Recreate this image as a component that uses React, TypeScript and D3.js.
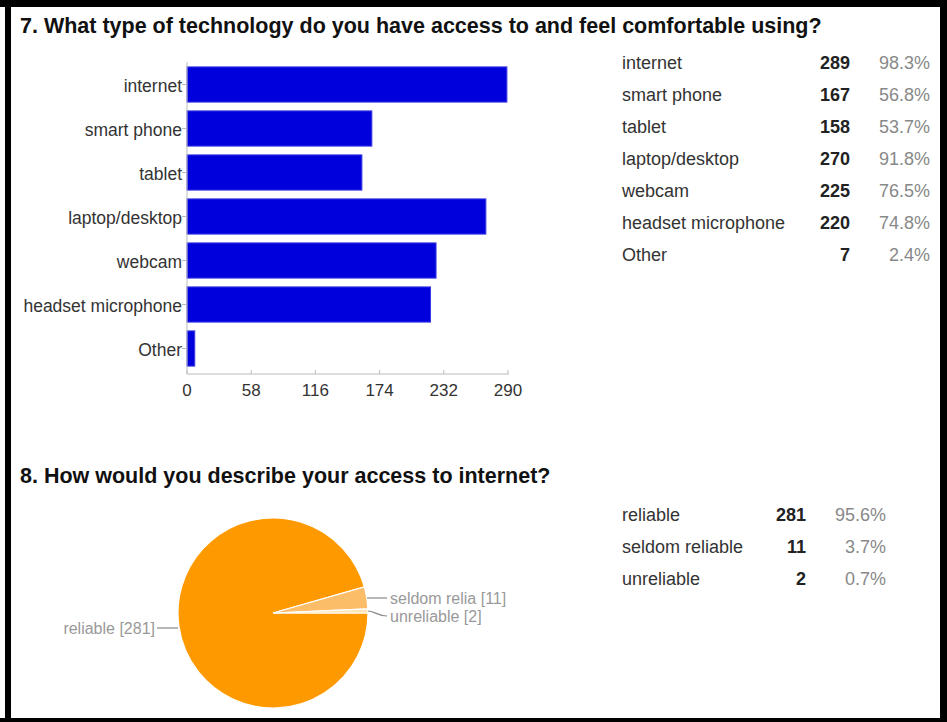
import React from "react";
import * as d3 from "d3";

const techCategories = ["internet", "smart phone", "tablet", "laptop/desktop", "webcam", "headset microphone", "Other"];
const techCounts = [289, 167, 158, 270, 225, 220, 7];
const techPercents = ["98.3%", "56.8%", "53.7%", "91.8%", "76.5%", "74.8%", "2.4%"];
const techTicks = [0, 58, 116, 174, 232, 290];

const accessCategories = ["reliable", "seldom reliable", "unreliable"];
const accessCounts = [281, 11, 2];
const accessPercents = ["95.6%", "3.7%", "0.7%"];
const accessPieLabels = ["reliable [281]", "seldom relia [11]", "unreliable [2]"];
const accessColors = ["#ff9900", "#fbbd68", "#fde5b5"];

const FONT = "'Liberation Sans', Arial, Helvetica, sans-serif";

export default function App() {
  const W = 947;
  const H = 722;

  // Bar chart scales
  const x = d3.scaleLinear().domain([0, 290]).range([187, 508]);
  const y = d3.scaleBand<string>().domain(techCategories).range([62.5, 370.5]).paddingInner(0.2).paddingOuter(0.1);
  const axisTop = 62;
  const axisBottom = 374;

  // Table 1
  const t1Y = d3.scaleLinear().domain([0, 1]).range([63, 95]);

  // Pie
  const cx = 273;
  const cy = 613;
  const r = 95;
  const pie = d3
    .pie<number>()
    .sort(null)
    .startAngle(Math.PI / 2)
    .endAngle(Math.PI / 2 + 2 * Math.PI);
  const arcs = pie(accessCounts);
  const arcGen = d3.arc<d3.PieArcDatum<number>>().innerRadius(0).outerRadius(r);

  const t2Y = d3.scaleLinear().domain([0, 1]).range([515, 547]);

  return (
    <svg
      width={W}
      height={H}
      viewBox={`0 0 ${W} ${H}`}
      style={{ position: "absolute", left: 0, top: 0, background: "#fff", fontFamily: FONT }}
    >
      <rect x={0} y={0} width={W} height={H} fill="#fff" />
      {/* frame */}
      <rect x={0} y={0} width={W} height={7} fill="#000" />
      <rect x={5} y={0} width={6} height={H} fill="#000" />
      <rect x={940} y={0} width={7} height={H} fill="#000" />
      <rect x={0} y={718} width={W} height={4} fill="#000" />

      {/* Title 7 */}
      <text x={20} y={33} fontSize={21.5} fontWeight="bold" fill="#111">
        7. What type of technology do you have access to and feel comfortable using?
      </text>

      {/* Bars */}
      {techCategories.map((c, i) => (
        <rect
          key={c}
          x={x(0)}
          y={y(c)!}
          width={x(techCounts[i]) - x(0)}
          height={y.bandwidth()}
          fill="#0000dc"
          stroke="#3a3ae6"
          strokeWidth={1}
        />
      ))}

      {/* Axes */}
      <line x1={x(0)} x2={x(0)} y1={axisTop} y2={axisBottom} stroke="#bbb" strokeWidth={1} />
      <line x1={x(0)} x2={x(290) + 1} y1={axisBottom} y2={axisBottom} stroke="#bbb" strokeWidth={1} />
      {techTicks.map((t) => (
        <g key={t}>
          <line x1={x(t)} x2={x(t)} y1={axisBottom - 4} y2={axisBottom} stroke="#bbb" />
          <text x={x(t)} y={396} fontSize={17} textAnchor="middle" fill="#333">
            {t}
          </text>
        </g>
      ))}
      {techCategories.map((c) => {
        const cyy = y(c)! + y.bandwidth() / 2;
        return (
          <g key={c}>
            <line x1={x(0) - 5} x2={x(0)} y1={cyy} y2={cyy} stroke="#bbb" />
            <text x={x(0) - 5} y={cyy} dy="0.4em" fontSize={17.5} textAnchor="end" fill="#333">
              {c}
            </text>
          </g>
        );
      })}

      {/* Table 1 */}
      {techCategories.map((c, i) => {
        const yy = t1Y(i);
        return (
          <g key={c} fontSize={18}>
            <text x={622} y={yy} dy="0.35em" fill="#333">
              {c}
            </text>
            <text x={850} y={yy} dy="0.35em" textAnchor="end" fontWeight="bold" fill="#222">
              {techCounts[i]}
            </text>
            <text x={930} y={yy} dy="0.35em" textAnchor="end" fill="#888">
              {techPercents[i]}
            </text>
          </g>
        );
      })}

      {/* Title 8 */}
      <text x={20} y={483} fontSize={21.5} fontWeight="bold" fill="#111">
        8. How would you describe your access to internet?
      </text>

      {/* Pie */}
      <g transform={`translate(${cx},${cy})`}>
        {arcs.map((a, i) => (
          <path key={i} d={arcGen(a) || ""} fill={accessColors[i]} stroke="#fff" strokeWidth={1.2} />
        ))}
      </g>
      {/* Pie labels */}
      <line x1={157} x2={178} y1={628} y2={628} stroke="#888" strokeWidth={1.2} />
      <text x={155} y={628} dy="0.35em" fontSize={16} textAnchor="end" fill="#999">
        {accessPieLabels[0]}
      </text>
      <line x1={367} x2={387} y1={598} y2={598} stroke="#888" strokeWidth={1.2} />
      <text x={390} y={598} dy="0.35em" fontSize={16} fill="#999">
        {accessPieLabels[1]}
      </text>
      <path d="M368,611 C374,611 378,616 387,616" fill="none" stroke="#888" strokeWidth={1.2} />
      <text x={390} y={616} dy="0.35em" fontSize={16} fill="#999">
        {accessPieLabels[2]}
      </text>

      {/* Table 2 */}
      {accessCategories.map((c, i) => {
        const yy = t2Y(i);
        return (
          <g key={c} fontSize={18}>
            <text x={622} y={yy} dy="0.35em" fill="#333">
              {c}
            </text>
            <text x={806} y={yy} dy="0.35em" textAnchor="end" fontWeight="bold" fill="#222">
              {accessCounts[i]}
            </text>
            <text x={886} y={yy} dy="0.35em" textAnchor="end" fill="#888">
              {accessPercents[i]}
            </text>
          </g>
        );
      })}
    </svg>
  );
}
